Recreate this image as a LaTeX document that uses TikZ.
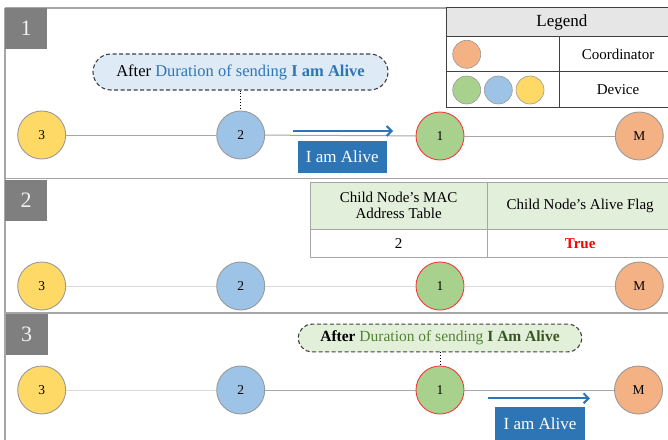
\documentclass[tikz,border=0pt]{standalone}
\usepackage{fontspec}
\setmainfont{Liberation Serif}
\usetikzlibrary{arrows.meta}

\definecolor{panelgray}{HTML}{A6A6A6}
\definecolor{tagGray}{HTML}{7F7F7F}
\definecolor{nodeEdge}{HTML}{999999}
\definecolor{linkGray}{HTML}{A6A6A6}
\definecolor{linkLight}{HTML}{D9D9D9}
\definecolor{devYellow}{HTML}{FFD966}
\definecolor{devBlue}{HTML}{9DC3E6}
\definecolor{devGreen}{HTML}{A9D18E}
\definecolor{coordOrange}{HTML}{F4B183}
\definecolor{edgeRed}{HTML}{F03C3C}
\definecolor{msgBlue}{HTML}{2E75B6}
\definecolor{noteBlue}{HTML}{DEEBF7}
\definecolor{noteGreen}{HTML}{E2F0D9}
\definecolor{textGreen}{HTML}{548235}
\definecolor{darkGreen}{HTML}{375623}
\definecolor{legHead}{HTML}{E7E6E6}
\definecolor{legEdge}{HTML}{404040}
\definecolor{tabHead}{HTML}{E2EFDA}
\definecolor{flagRed}{HTML}{FF0000}

\newcommand{\fsz}[1]{\fontsize{#1}{#1}\selectfont}

\tikzset{
  panelline/.style={draw=panelgray, line width=1.6pt},
  paneltag/.style={fill=tagGray, text=white!95!black, minimum width=42pt,
    minimum height=41pt, inner sep=0pt, font=\fsz{22}},
  netnode/.style={circle, draw=nodeEdge, line width=0.9pt, minimum size=48pt,
    inner sep=0pt, font=\fsz{13.5}},
  relay/.style={netnode, draw=edgeRed},
  link/.style={draw=linkGray, line width=1pt},
  linklight/.style={draw=linkLight, line width=1pt},
  note/.style={draw=legEdge, dashed, dash pattern=on 4pt off 2.5pt, line width=1.1pt,
    inner sep=0pt},
  tether/.style={draw=black, dotted, line width=0.9pt},
  msgarrow/.style={draw=msgBlue, line width=2pt, -{Straight Barb[length=5pt,width=10pt,line width=2pt]}},
  msgbox/.style={fill=msgBlue, text=white, inner sep=0pt, font=\fsz{17}},
  legcell/.style={draw=legEdge, line width=1pt, inner sep=0pt, font=\fsz{15}},
  legdot/.style={circle, draw=nodeEdge, line width=0.6pt, minimum size=28pt, inner sep=0pt},
  tabcell/.style={draw=panelgray, line width=1pt, inner sep=0pt, font=\fsz{15},
    align=center},
}

\begin{document}
\begin{tikzpicture}[x=1pt, y=-1pt]
  \useasboundingbox (0,0) rectangle (668,439);
  \clip (0,0) rectangle (668,439);
  \fill[white] (0,0) rectangle (668,439);

  % panel frames
  \draw[panelline] (5,8) -- (672,8);
  \draw[panelline] (5,178.5) -- (672,178.5);
  \draw[panelline] (5,313) -- (672,313);
  \draw[panelline] (5,8) -- (5,445);

  % panel tags
  \node[paneltag] (tag1) at (26,28.5) {1};
  \node[paneltag] (tag2) at (26,200) {2};
  \node[paneltag] (tag3) at (26.5,334) {3};

  % ---------- legend ----------
  \node[legcell, fill=legHead, minimum width=230.3pt, minimum height=29.4pt,
        font=\fsz{17}] (legT) at (561.85,22) {Legend};
  \node[legcell, minimum width=112.3pt, minimum height=35pt] (legC1) at (502.85,54.2) {};
  \node[legcell, minimum width=118pt, minimum height=35pt] (legC2) at (618,54.2) {Coordinator};
  \node[legcell, minimum width=112.3pt, minimum height=36pt] (legD1) at (502.85,89.7) {};
  \node[legcell, minimum width=118pt, minimum height=36pt] (legD2) at (618,89.7) {Device};
  \node[legdot, fill=coordOrange] (lgO) at (466.7,54.3) {};
  \node[legdot, fill=devGreen] (lgG) at (466.7,90) {};
  \node[legdot, fill=devBlue] (lgB) at (498.3,90) {};
  \node[legdot, fill=devYellow] (lgY) at (530,90) {};

  % ---------- panel 1 ----------
  \node[netnode, fill=devYellow] (a3) at (41.7,135) {3};
  \node[netnode, fill=devBlue] (a2) at (240.7,135) {2};
  \node[relay, fill=devGreen] (a1) at (440,136) {1};
  \node[netnode, fill=coordOrange] (aM) at (639.3,136) {M};
  \draw[link] (a3) -- (a2);
  \draw[link] (a2) -- (a1);
  \draw[link] (a1) -- (aM);

  \node[note, fill=noteBlue, minimum width=295pt, minimum height=36pt,
        rounded corners=18pt, font=\fsz{16.5}] (n1) at (240.5,72)
    {After \textcolor{msgBlue}{Duration of sending \textbf{I am Alive}}};
  \draw[tether] (n1.south -| a2) -- (a2.north);

  \coordinate (m1s) at (293,131);
  \coordinate (m1e) at (393,131);
  \draw[msgarrow] (m1s) -- (m1e);
  \node[msgbox, minimum width=89.3pt, minimum height=32pt] (b1) at (342.3,156.7) {I am Alive};

  % ---------- panel 2 ----------
  \node[tabcell, fill=tabHead, minimum width=177.3pt, minimum height=47pt]
    (h1) at (398.65,205.8) {Child Node’s MAC\\[1pt]Address Table};
  \node[tabcell, fill=tabHead, minimum width=185.7pt, minimum height=47pt]
    (h2) at (580.15,205.8) {Child Node’s Alive Flag};
  \node[tabcell, minimum width=177.3pt, minimum height=28pt] (r1) at (398.65,243.3) {2};
  \node[tabcell, minimum width=185.7pt, minimum height=28pt] (r2) at (580.15,243.3)
    {\textcolor{flagRed}{\textbf{True}}};

  \node[netnode, fill=devYellow] (b3) at (41.7,286) {3};
  \node[netnode, fill=devBlue] (b2) at (240.7,286) {2};
  \node[relay, fill=devGreen] (b1n) at (440,286) {1};
  \node[netnode, fill=coordOrange] (bM) at (639.3,286) {M};
  \draw[linklight] (b3) -- (b2);
  \draw[linklight] (b2) -- (b1n);
  \draw[linklight] (b1n) -- (bM);

  % ---------- panel 3 ----------
  \node[netnode, fill=devYellow] (c3) at (41.7,390) {3};
  \node[netnode, fill=devBlue] (c2) at (240.7,390) {2};
  \node[relay, fill=devGreen] (c1) at (440,390) {1};
  \node[netnode, fill=coordOrange] (cM) at (638.5,390) {M};
  \draw[linklight] (c3) -- (c2);
  \draw[link] (c2) -- (c1);
  \draw[link] (c1) -- (cM);

  \node[note, fill=noteGreen, minimum width=283.4pt, minimum height=27.7pt,
        rounded corners=13.8pt, font=\fsz{15.5}] (n3) at (440,338)
    {\textbf{After} \textcolor{textGreen}{Duration of sending}
     \textcolor{darkGreen}{\textbf{I Am Alive}}};
  \draw[tether] (n3.south) -- (c1.north);

  \coordinate (m3s) at (488.3,398.3);
  \coordinate (m3e) at (590,398.3);
  \draw[msgarrow] (m3s) -- (m3e);
  \node[msgbox, minimum width=90pt, minimum height=38pt] (b3box) at (540,425.7) {};
  \node[text=white, font=\fsz{17}, inner sep=0pt] (b3txt) at (540,423.5) {I am Alive};
\end{tikzpicture}
\end{document}
